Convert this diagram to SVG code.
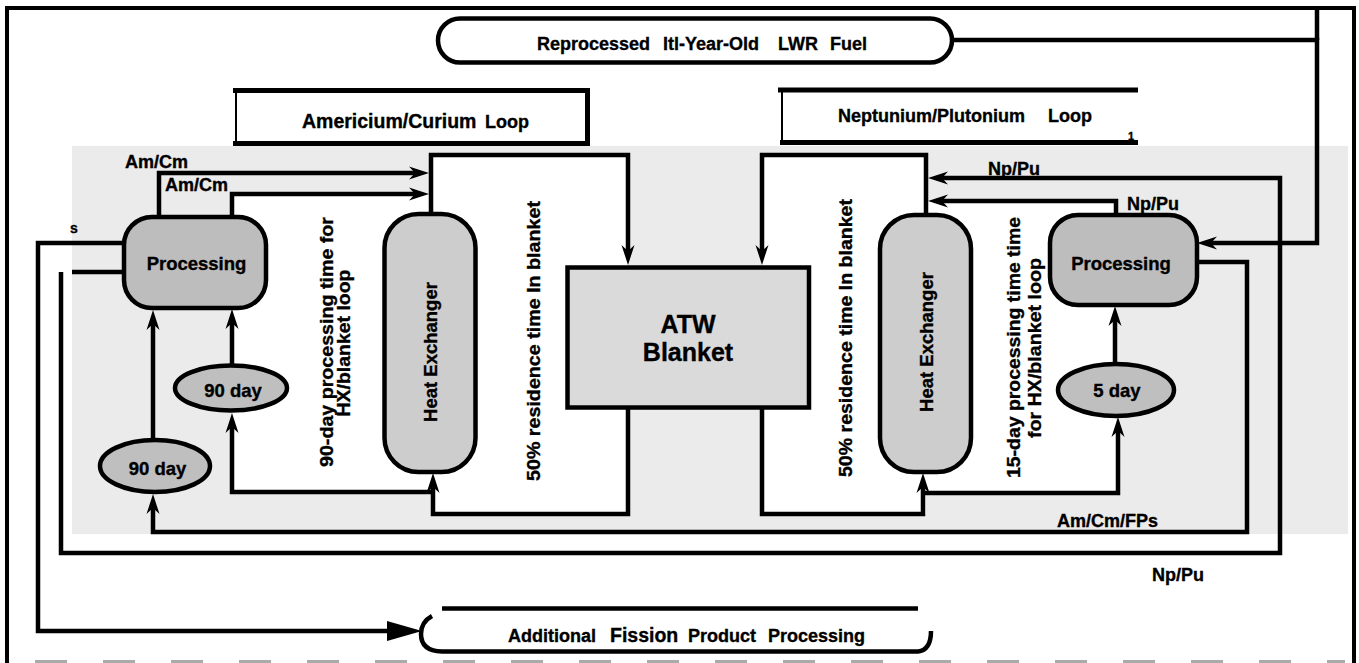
<svg xmlns="http://www.w3.org/2000/svg" width="1359" height="663" viewBox="0 0 1359 663">
<style>
.ln{fill:none;stroke:#000;stroke-width:4.5;stroke-linejoin:miter;stroke-linecap:butt}
.thin{fill:none;stroke:#000;stroke-width:2}
.t{font-family:"Liberation Sans",Arial,Helvetica,sans-serif;font-weight:bold;fill:#000;stroke:#000;stroke-width:0.35}
.box{stroke:#000;stroke-width:4.5}
.proc{fill:#bdbdbd}
.hx{fill:#cdcdcd}
.ell{fill:#bfbfbf}
</style>
<defs>
<marker id="ah" markerUnits="userSpaceOnUse" markerWidth="20" markerHeight="14" viewBox="0 -7 20 14" refX="8" refY="0" orient="auto"><path d="M20,0 L0,-6.5 L6,0 L0,6.5 Z" fill="#000"/></marker>
<marker id="big" markerUnits="userSpaceOnUse" markerWidth="36" markerHeight="22" viewBox="0 -11 36 22" refX="2" refY="0" orient="auto"><path d="M0,-10 L35,0 L0,10 Z" fill="#000"/></marker>
</defs>
<rect width="1359" height="663" fill="#fff"/>
<g id="background">
<rect x="72" y="146" width="1276" height="388" fill="#ebebeb"/>
<rect x="232" y="195" width="199" height="297" fill="#fff"/>
<rect x="431" y="155" width="197" height="359" fill="#fff"/>
<rect x="762" y="155" width="164" height="359" fill="#fff"/>
<rect x="926" y="201" width="190" height="292" fill="#fff"/>
</g>
<g id="frame">
<path d="M7,663 V8 H1354 V663" fill="none" stroke="#000" stroke-width="4"/>
<line x1="35" y1="661.5" x2="1345" y2="661.5" stroke="#aaa" stroke-width="3" stroke-dasharray="32 36"/>
</g>
<g id="connectors">
<path class="ln" d="M159,217 V173 H417" marker-end="url(#ah)"/>
<path class="ln" d="M232,217 V194 H417" marker-end="url(#ah)"/>
<path class="ln" d="M431,214 V155 H628 V253" marker-end="url(#ah)"/>
<path class="ln" d="M628,407 V514 H433 V485" marker-end="url(#ah)"/>
<path class="ln" d="M433,492 H232 V425" marker-end="url(#ah)"/>
<path class="ln" d="M232,365 V321" marker-end="url(#ah)"/>
<path class="ln" d="M153,440 V322" marker-end="url(#ah)"/>
<path class="ln" d="M1197,262 H1247 V532 H153 V506" marker-end="url(#ah)"/>
<path class="ln" d="M926,214 V155 H762 V253" marker-end="url(#ah)"/>
<path class="ln" d="M762,407 V514 H923 V485" marker-end="url(#ah)"/>
<path class="ln" d="M923,493 H1118 V429" marker-end="url(#ah)"/>
<path class="ln" d="M1115,363 V318" marker-end="url(#ah)"/>
<path class="ln" d="M61,272 V553 H1280 V178 H940" marker-end="url(#ah)"/>
<path class="ln" d="M1116,215 V201 H940" marker-end="url(#ah)"/>
<path class="ln" d="M952,40 H1317 V243 H1209" marker-end="url(#ah)"/>
<path class="ln" d="M1317,9 V40"/>
<path class="ln" d="M72,272 H124"/>
<path class="ln" d="M124,243 H38 V631 H389" marker-end="url(#big)"/>
</g>
<g id="connector-labels" class="t" font-size="18">
<text x="125" y="168">Am/Cm</text>
<text x="165" y="191">Am/Cm</text>
<text x="988" y="175">Np/Pu</text>
<text x="1127" y="210">Np/Pu</text>
<text x="1057" y="527">Am/Cm/FPs</text>
<text x="1152" y="581">Np/Pu</text>
<text x="70" y="233" font-size="14">s</text>
</g>
<g id="reprocessed-fuel">
<rect x="438" y="18.5" width="514" height="44" rx="22" fill="#fff" class="box"/>
<text class="t" y="50" font-size="18"><tspan x="537">Reprocessed</tspan><tspan x="663">Itl-Year-Old</tspan><tspan x="778">LWR</tspan><tspan x="830">Fuel</tspan></text>
</g>
<g id="am-cm-loop-title">
<path d="M233,90.5 H590 M233,143.5 H590 M587.5,90 V144" fill="none" stroke="#000" stroke-width="5"/>
<path class="thin" d="M236,90 V144"/>
<text class="t" y="128"><tspan x="302" font-size="19.5">Americium/Curium</tspan><tspan x="485" font-size="18">Loop</tspan></text>
</g>
<g id="np-pu-loop-title">
<path d="M778,90 H1138 M780,142.5 H1138" fill="none" stroke="#000" stroke-width="5"/>
<path class="thin" d="M782,90 V143"/>
<text class="t" y="122" font-size="18"><tspan x="838">Neptunium/Plutonium</tspan><tspan x="1048">Loop</tspan></text>
<text class="t" x="1128" y="140" font-size="11">1</text>
</g>
<g id="processing-am">
<rect x="124" y="217" width="142" height="91" rx="28" class="box proc"/>
<text class="t" x="196.5" y="270" font-size="18.5" text-anchor="middle">Processing</text>
</g>
<g id="processing-np">
<rect x="1050" y="215" width="147" height="90" rx="28" class="box proc"/>
<text class="t" x="1121" y="270" font-size="18.5" text-anchor="middle">Processing</text>
</g>
<g id="hx-left">
<rect x="384.5" y="214" width="91" height="258" rx="34" class="box hx"/>
<text class="t" font-size="18.5" text-anchor="middle" transform="translate(437,352) rotate(-90)">Heat Exchanger</text>
</g>
<g id="hx-right">
<rect x="880" y="215" width="91" height="257" rx="34" class="box hx"/>
<text class="t" font-size="18.5" text-anchor="middle" transform="translate(933,342) rotate(-90)">Heat Exchanger</text>
</g>
<g id="atw-blanket">
<rect x="567.5" y="267.5" width="241.5" height="140" class="box" fill="#dadada"/>
<text class="t" x="688" y="333" font-size="25" text-anchor="middle">ATW</text>
<text class="t" x="688" y="361" font-size="25" text-anchor="middle">Blanket</text>
</g>
<g id="delay-90-upper">
<ellipse cx="231" cy="388" rx="56" ry="22.5" class="box ell"/>
<text class="t" x="233" y="397" font-size="18.5" text-anchor="middle">90 day</text>
</g>
<g id="delay-90-lower">
<ellipse cx="155" cy="466" rx="55" ry="26" class="box ell"/>
<text class="t" x="157.5" y="475" font-size="18.5" text-anchor="middle">90 day</text>
</g>
<g id="delay-5">
<ellipse cx="1116" cy="390" rx="58" ry="26" class="box ell"/>
<text class="t" x="1117" y="397" font-size="18.5" text-anchor="middle">5 day</text>
</g>
<g id="additional-fp">
<path d="M442,608.5 H918" fill="none" stroke="#000" stroke-width="4.5"/>
<path d="M432,616 Q421,622 421,634 Q421,651 442,651.5 H918 Q931,650 931,631" fill="none" stroke="#000" stroke-width="4.5"/>
<text class="t" y="642" font-size="18"><tspan x="508">Additional</tspan><tspan x="610" font-size="19.5">Fission</tspan><tspan x="688">Product</tspan><tspan x="768">Processing</tspan></text>
</g>
<g id="annotations" class="t" font-size="18" text-anchor="middle">
<text transform="translate(333,342) rotate(-90)" textLength="250" lengthAdjust="spacingAndGlyphs">90-day processing time for</text>
<text transform="translate(350,343) rotate(-90)" textLength="147" lengthAdjust="spacingAndGlyphs">HX/blanket loop</text>
<text transform="translate(540,341) rotate(-90)" textLength="280" lengthAdjust="spacingAndGlyphs">50% residence time In blanket</text>
<text transform="translate(852,338) rotate(-90)" textLength="278" lengthAdjust="spacingAndGlyphs">50% residence time In blanket</text>
<text transform="translate(1020,347.5) rotate(-90)" textLength="261" lengthAdjust="spacingAndGlyphs">15-day processing time time</text>
<text transform="translate(1041,348) rotate(-90)" textLength="180" lengthAdjust="spacingAndGlyphs">for HX/blanket loop</text>
</g>
</svg>
